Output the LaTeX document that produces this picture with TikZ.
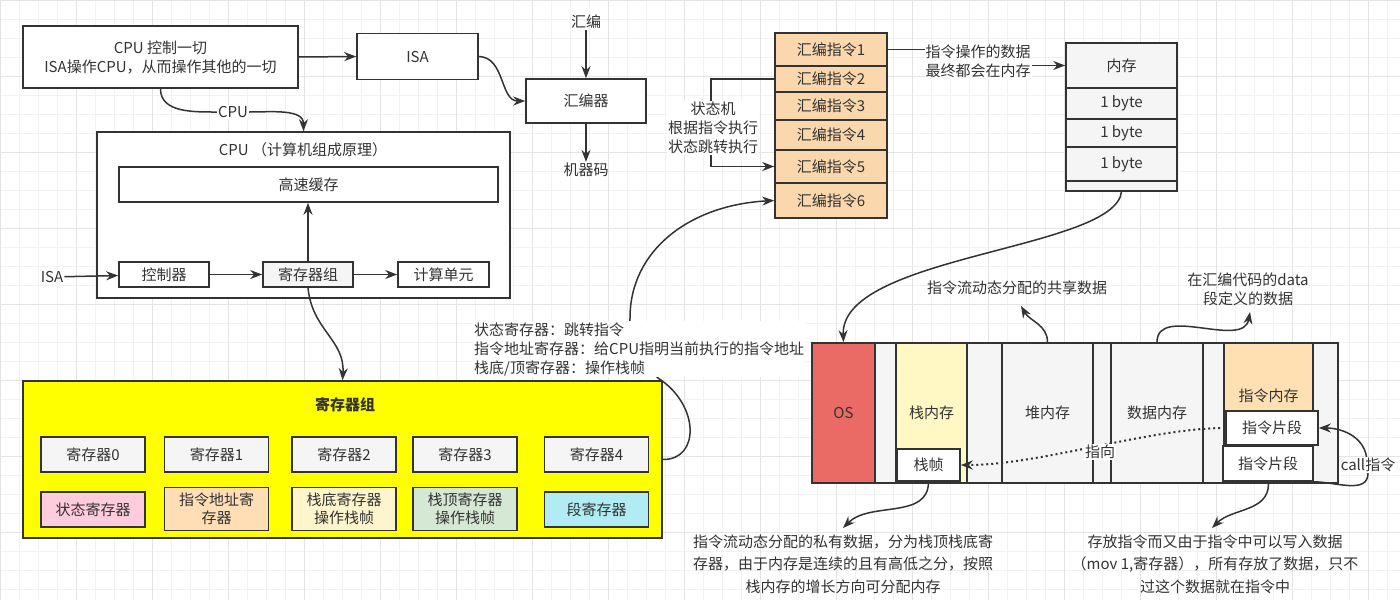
\documentclass[tikz,border=0pt]{standalone}
\usepackage{fontspec}
\setmainfont{Noto Sans CJK SC}
\usetikzlibrary{arrows.meta}
\definecolor{ink}{HTML}{333333}
\definecolor{soft}{HTML}{F5F5F5}
\definecolor{asmfill}{HTML}{FAD7AC}
\definecolor{bankyel}{HTML}{FFFF00}
\definecolor{osred}{HTML}{EA6B66}
\definecolor{stkyel}{HTML}{FFF7C4}
\definecolor{imfill}{HTML}{FFE0B2}
\definecolor{pinkreg}{HTML}{FFCCDD}
\definecolor{peachreg}{HTML}{FFDDB5}
\definecolor{lyelreg}{HTML}{FFF5CC}
\definecolor{greenreg}{HTML}{D5E8D4}
\definecolor{cyanreg}{HTML}{B1EBF4}
\definecolor{gridmin}{HTML}{F2F2F2}
\definecolor{gridmaj}{HTML}{E4E4E4}
\tikzset{sz/.style 2 args={minimum width=#1pt, minimum height=#2pt}}

\begin{document}
\begin{tikzpicture}[x=1pt, y=-1pt,
    every node/.style={font=\fontsize{15}{19}\selectfont, text=ink},
    box/.style={draw=ink, line width=1.6pt, fill=white, align=center, inner sep=1pt},
    gbox/.style={box, fill=soft},
    txt/.style={align=center, inner sep=1pt},
    wire/.style={line width=1.5pt, ink},
    arr/.style={-{Stealth[length=12pt,width=9pt]}, line width=1.5pt, ink}]
  \useasboundingbox (0,0) rectangle (1400,600);
  \fill[white] (0,0) rectangle (1400,600);
  % background grid
  \draw[gridmin, line width=0.6pt] (0,0) grid[step=19pt] (1400,600);
  \draw[gridmaj, line width=0.8pt] (0,0) grid[step=76pt] (1400,600);

  % top left: ISA / assembler
  \node[box, sz={275}{62}] (ctl) at (160.5,57) {CPU 控制一切\\ISA操作CPU，从而操作其他的一切};
  \node[box, sz={121}{46}] (isa) at (417.5,56.5) {ISA};
  \node[txt] (asmw) at (586,22) {汇编};
  \node[box, sz={120}{44}] (asmr) at (586,101) {汇编器};
  \node[txt] (mcode) at (586,170) {机器码};
  \draw[arr] (ctl.east) -- (isa.west);
  \draw[arr] (isa.east) .. controls (505,57) and (500,101) .. (asmr.west);
  \draw[arr] (asmw) -- (asmr);
  \draw[arr] (asmr) -- (mcode);

  % CPU
  \node[box, sz={413}{166}] (cpu) at (303.5,215) {};
  \node[txt] (cputl) at (303,150) {CPU （计算机组成原理）};
  \node[box, sz={379}{35}] (cache) at (308.5,184.5) {高速缓存};
  \node[box, sz={90}{25}] (ctrl) at (164,274.5) {控制器};
  \node[gbox, sz={90}{25}] (regs) at (308,274.5) {寄存器组};
  \node[box, sz={91}{25}] (alu) at (443.5,274.5) {计算单元};
  \node[txt] (isain) at (52,277) {ISA};
  \node[txt, fill=white] (cpulbl) at (233,112) {CPU};
  \draw[wire] (ctl.south) to[out=-90,in=180] (cpulbl);
  \draw[arr] (cpulbl) to[out=0,in=90] (cpu.north);
  \draw[arr] (isain) -- (ctrl);
  \draw[arr] (ctrl) -- (regs);
  \draw[arr] (regs) -- (alu);
  \draw[arr] (regs.north) -- (regs.north |- cache.south);

  % register bank
  \node[box, fill=bankyel, sz={639}{157}] (bank) at (342.5,459.5) {};
  \node[txt, font=\fontsize{15}{19}\selectfont\bfseries] (bankt) at (345,405) {寄存器组};
  \foreach \i/\x in {0/93,1/216.5,2/344,3/465,4/596.5}
    \node[gbox, sz={104}{35}] (r\i) at (\x,454.5) {寄存器\i};
  \node[box, fill=pinkreg, sz={104}{35}] (sreg) at (93,509.5) {状态寄存器};
  \node[box, fill=peachreg, sz={104}{43}, font=\fontsize{15}{18}\selectfont] (ipreg) at (216.5,509) {指令地址寄\\存器};
  \node[box, fill=lyelreg, sz={104}{43}, font=\fontsize{15}{18}\selectfont] (bpreg) at (344,509) {栈底寄存器\\操作栈帧};
  \node[box, fill=greenreg, sz={104}{43}, font=\fontsize{15}{18}\selectfont] (spreg) at (465,509) {栈顶寄存器\\操作栈帧};
  \node[box, fill=cyanreg, sz={104}{35}] (segreg) at (596.5,509.5) {段寄存器};
  \draw[arr] (regs.south) .. controls (312,330) and (345,340) .. (bank.north);

  % assembly instructions
  \foreach \i/\y/\h in {1/49.5/33, 2/79/26, 3/106/28, 4/135/30, 5/166.5/33, 6/200.5/35}
    \node[box, fill=asmfill, sz={112}{\h}] (asm\i) at (831,\y) {汇编指令\i};
  \draw[arr] (bank.east) .. controls (700,460) and (700,405) .. (658,378)
    .. controls (640,360) and (628,340) .. (630,318)
    .. controls (630,250) and (690,205) .. (asm6.west);
  \node[txt, align=left, anchor=west, fill=white] (jmpnote) at (473,349) {状态寄存器：跳转指令\\指令地址寄存器：给CPU指明当前执行的指令地址\\栈底/顶寄存器：操作栈帧};
  \draw[arr] (asm2.west) -- ++(-63,0) |- (asm5.west);
  \node[txt, fill=white] (stmnote) at (713,128) {状态机\\根据指令执行\\状态跳转执行};

  % memory
  \node[gbox, sz={111}{45}] (memh) at (1121.5,65.5) {内存};
  \foreach \i/\y/\h in {1/103.5/31, 2/133/28, 3/164/34}
    \node[gbox, sz={111}{\h}] (byte\i) at (1121.5,\y) {1 byte};
  \node[gbox, sz={111}{10}] (memt) at (1121.5,186) {};
  \draw[arr] (asm1.east) -- ++(91,0) |- (memh.west);
  \node[txt, fill=white] (datanote) at (978,61.5) {指令操作的数据\\最终都会在内存};

  % memory layout
  \node[gbox, sz={526}{140}] (strip) at (1075,413) {};
  \node[box, fill=osred, sz={63}{140}] (os) at (843.5,413) {OS};
  \node[box, fill=stkyel, sz={71}{140}] (stk) at (931.5,413) {栈内存};
  \node[gbox, sz={91}{140}] (heap) at (1047.5,413) {堆内存};
  \node[gbox, sz={92}{140}] (dmem) at (1157,413) {数据内存};
  \node[box, fill=imfill, sz={89}{140}] (imem) at (1268.5,413) {};
  \node[txt] (imemt) at (1268.5,396) {指令内存};
  \node[box, sz={63}{32}] (frame) at (928.5,465) {栈帧};
  \node[box, sz={92}{34}] (seg1) at (1272,428) {指令片段};
  \node[box, sz={90}{35}] (seg2) at (1268,463.5) {指令片段};
  \draw[arr] (memt.south) .. controls (1115,250) and (840,255) .. (os.north);

  \node[txt] (shared) at (1017,288) {指令流动态分配的共享数据};
  \node[txt] (datadef) at (1248,289) {在汇编代码的data\\段定义的数据};
  \node[txt, font=\fontsize{15}{22.5}\selectfont] (privnote) at (843,564) {指令流动态分配的私有数据，分为栈顶栈底寄\\存器，由于内存是连续的且有高低之分，按照\\栈内存的增长方向可分配内存};
  \node[txt, font=\fontsize{15}{22.5}\selectfont] (storenote) at (1215,564) {存放指令而又由于指令中可以写入数据\\（mov 1,寄存器），所有存放了数据，只不\\过这个数据就在指令中};
  \coordinate (sharedtip) at (1021,306);
  \coordinate (deftip) at (1250,312);
  \coordinate (privtip) at (843,528);
  \coordinate (storetip) at (1212,528);
  \draw[arr] (heap.north) to[out=90,in=-60] (sharedtip);
  \draw[arr] (dmem.north) to[out=90,in=-100] (deftip);
  \draw[arr] (frame.south) to[out=-90,in=45] (privtip);
  \draw[arr] (imem.south) to[out=-90,in=45] (storetip);

  \draw[arr, dash pattern=on 2pt off 3pt, line width=2pt] (seg1.west) .. controls (1150,428) and (1040,465) .. (frame.east);
  \node[txt, fill=white] (ptrlbl) at (1100,452) {指向};
  \node[txt, fill=white] (calllbl) at (1368,465) {call指令};
  \draw[wire] (seg2.south east) to[out=0,in=-90] (calllbl);
  \draw[arr] (calllbl) to[out=100,in=0] (seg1.east);
\end{tikzpicture}
\end{document}
